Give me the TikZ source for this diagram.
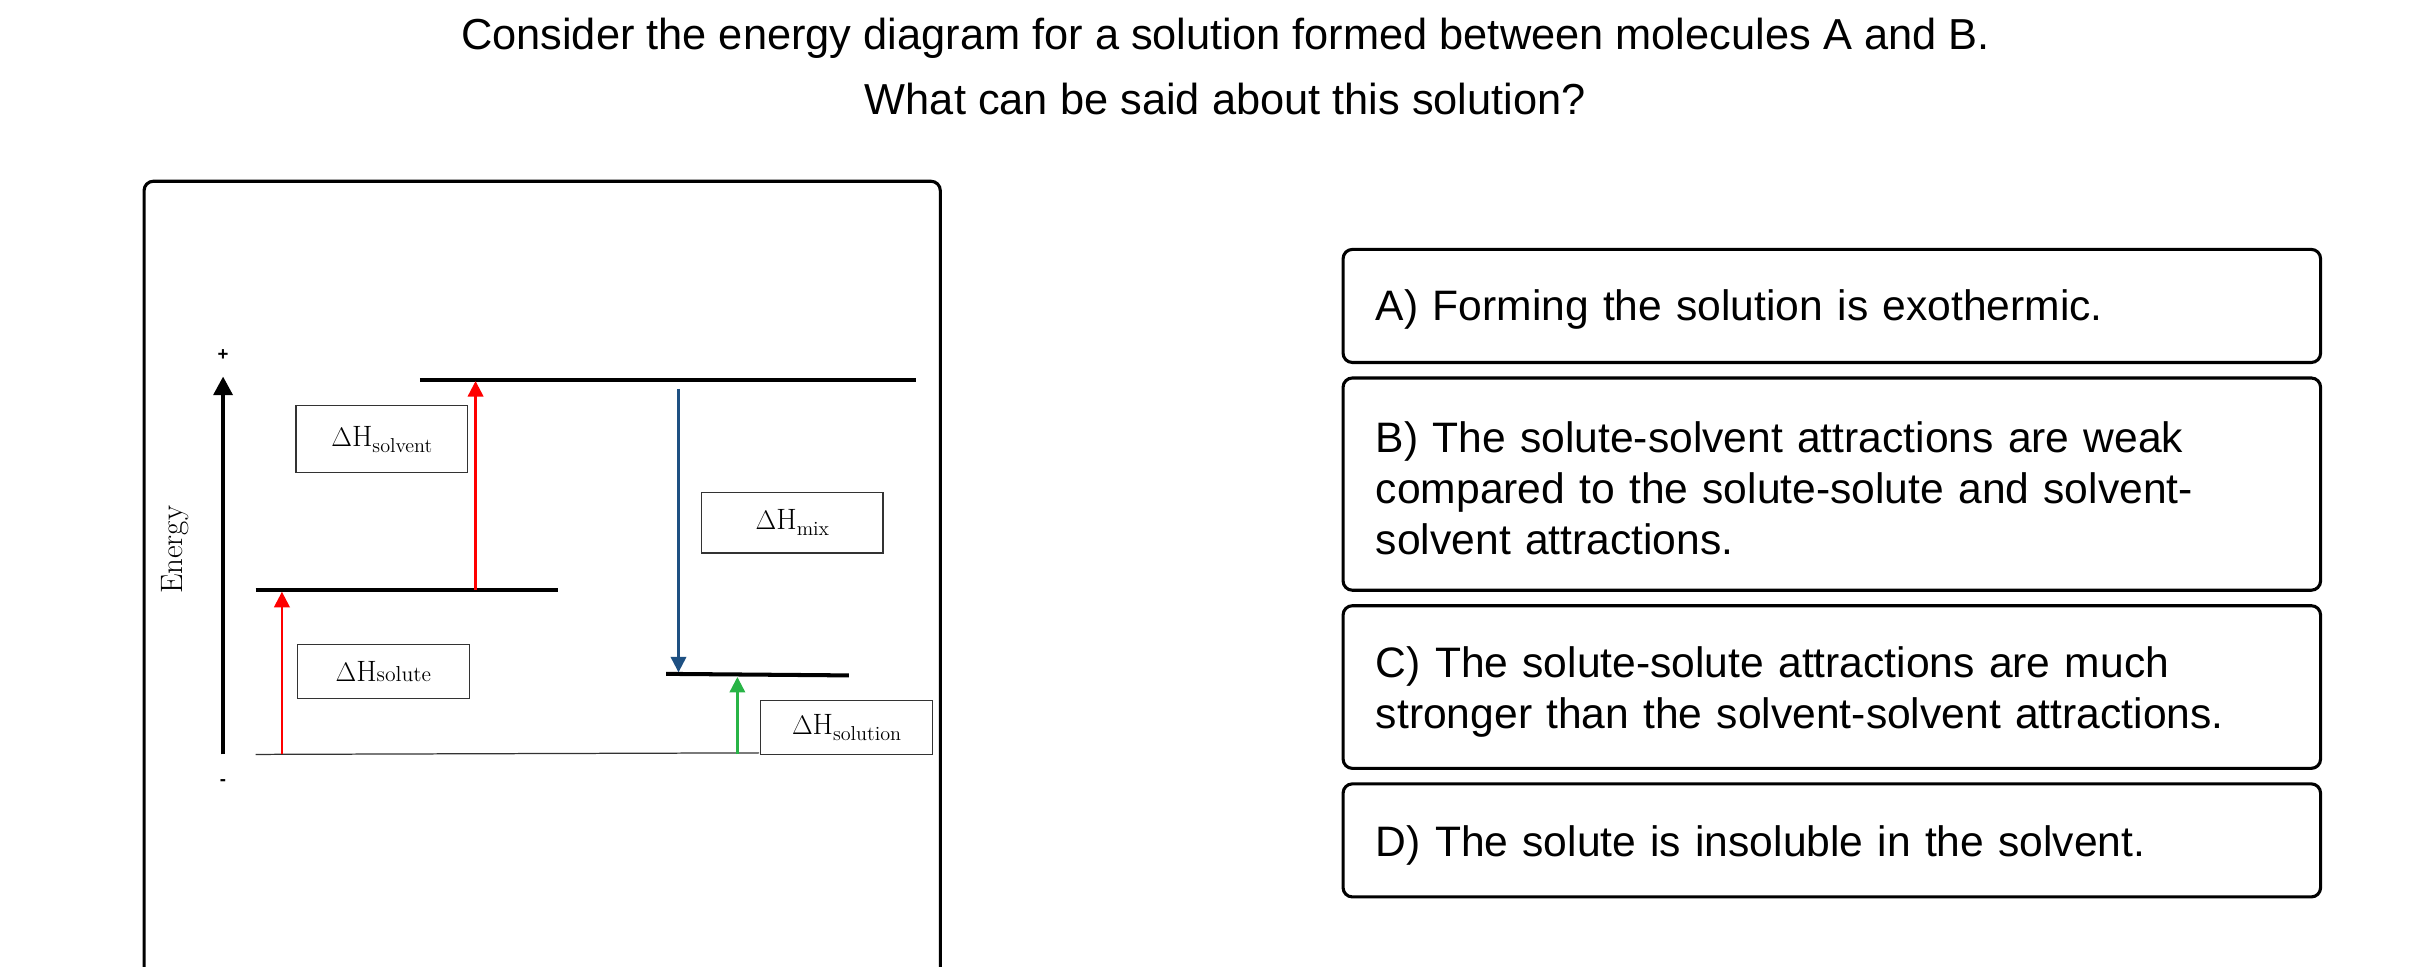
\documentclass[tikz,border=0pt]{standalone}
\usepackage{fontspec}
\setmainfont{Liberation Sans}
\newfontfamily\lmfont{Latin Modern Roman}
\usetikzlibrary{arrows.meta}
\newcommand{\dH}[1]{$\Delta$H\raisebox{-4pt}{\fontsize{13}{14}\selectfont #1}}
\begin{document}
\begin{tikzpicture}[x=1pt,y=-1pt,
  panel/.style={draw=black,line width=2pt,rounded corners=6pt},
  optbox/.style={panel},
  opttext/.style={anchor=west,align=left,font=\fontsize{27.5}{33}\selectfont,text width=600pt,inner sep=0pt},
  level/.style={line width=2.6pt},
  lbl/.style={draw=black!80,line width=0.8pt,font=\lmfont\fontsize{19}{21}\selectfont,inner sep=0pt},
  upar/.style={line width=1.5pt,-{Triangle[length=10pt,width=10pt]}}]
\useasboundingbox (0,0) rectangle (1568,624);
\begin{scope}
\clip (0,0) rectangle (1568,624);
\draw[panel] (93,117) rectangle (607,700);
\end{scope}
\node (t1) at (791,25) {\fontsize{28}{32}\selectfont Consider the energy diagram for a solution formed between molecules A and B.};
\node (t2) at (791,64) {\fontsize{28}{32}\selectfont What can be said about this solution?};
% axis
\node (plus) at (144,229) {\bfseries\fontsize{12}{12}\selectfont +};
\node (minus) at (144,505) {\bfseries\fontsize{12}{12}\selectfont -};
\coordinate (ax0) at (144,487);
\coordinate (ax1) at (144,243);
\draw[line width=2.8pt,-{Triangle[length=12pt,width=12pt]}] (ax0) -- (ax1);
\node[rotate=90,font=\lmfont\fontsize{20}{22}\selectfont] (en) at (113,355) {Energy};
% levels
\coordinate (top0) at (271,245); \coordinate (top1) at (591,245);
\coordinate (mid0) at (165,381); \coordinate (mid1) at (360,381);
\coordinate (low0) at (430,435); \coordinate (low1) at (548,436);
\coordinate (b0) at (165,487); \coordinate (b1) at (490,486);
\draw[level] (top0) -- (top1);
\draw[level] (mid0) -- (mid1);
\draw[level] (low0) -- (low1);
\draw[line width=0.8pt,black!80] (b0) -- (b1);
% arrows
\coordinate (r1a) at (182,487); \coordinate (r1b) at (182,382);
\coordinate (r2a) at (307,381); \coordinate (r2b) at (307,246);
\coordinate (bla) at (438,251); \coordinate (blb) at (438,434);
\coordinate (gra) at (476,487); \coordinate (grb) at (476,437);
\draw[upar,red] (r1a) -- (r1b);
\draw[upar,red] (r2a) -- (r2b);
\draw[upar,color={rgb,255:red,30;green,80;blue,130}] (bla) -- (blb);
\draw[upar,color={rgb,255:red,40;green,180;blue,70}] (gra) -- (grb);
% labels
\node[lbl,minimum width=111pt,minimum height=43pt] (lsolv) at (246.5,283.5) {\dH{solvent}};
\node[lbl,minimum width=117pt,minimum height=39pt] (lmix) at (511.5,337.5) {\dH{mix}};
\node[lbl,minimum width=111pt,minimum height=35pt] (lsolu) at (247.5,433.5) {$\Delta$H{\fontsize{14}{15}\selectfont solute}};
\node[lbl,minimum width=111pt,minimum height=35pt,fill=white] (lsoln) at (546.5,469.5) {\dH{solution}};
% options
\draw[optbox] (867,161) rectangle (1498,234);
\node[opttext] (oa) at (888,200) {A) Forming the solution is exothermic.};
\draw[optbox] (867,244) rectangle (1498,381);
\node[opttext] (ob) at (888,315) {B) The solute-solvent attractions are weak\\compared to the solute-solute and solvent-\\solvent attractions.};
\draw[optbox] (867,391) rectangle (1498,496);
\node[opttext] (oc) at (888,446.5) {C) The solute-solute attractions are much\\stronger than the solvent-solvent attractions.};
\draw[optbox] (867,506) rectangle (1498,579);
\node[opttext] (od) at (888,546) {D) The solute is insoluble in the solvent.};
\end{tikzpicture}
\end{document}
